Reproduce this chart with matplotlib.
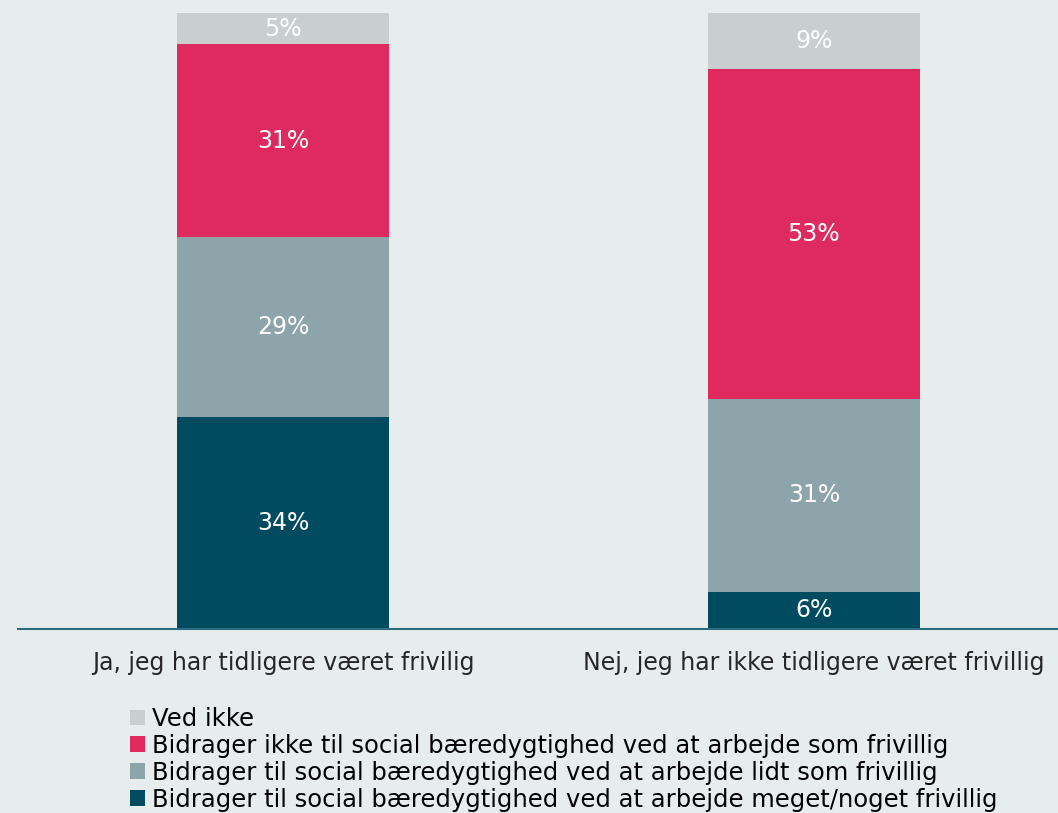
import matplotlib
matplotlib.use("Agg")
import matplotlib.pyplot as plt
from matplotlib.patches import Patch

categories = ["Ja, jeg har tidligere været frivilig",
              "Nej, jeg har ikke tidligere været frivillig"]
series_names = ["Bidrager til social bæredygtighed ved at arbejde meget/noget frivillig",
                "Bidrager til social bæredygtighed ved at arbejde lidt som frivillig",
                "Bidrager ikke til social bæredygtighed ved at arbejde som frivillig",
                "Ved ikke"]
meget = [34, 6]
lidt = [29, 31]
ikke = [31, 53]
ved_ikke = [5, 9]
colors = ["#004b5f", "#8da4ab", "#de2a5e", "#c9cfd1"]

bg = "#e7eded"
fig = plt.figure(figsize=(10.58, 8.13), dpi=100, facecolor=bg)
ax = fig.add_axes([18 / 1058, 1 - 629 / 813, 1 - 18 / 1058, 616 / 813])
ax.set_facecolor(bg)

x = range(len(categories))
bottom = [0, 0]
for vals, name, col in zip([meget, lidt, ikke, ved_ikke], series_names, colors):
    bars = ax.bar(x, vals, width=0.4, bottom=bottom, color=col, label=name)
    for b, v, bt in zip(bars, vals, bottom):
        ax.text(b.get_x() + b.get_width() / 2, bt + v / 2, f"{v}%",
                ha="center", va="center", color="white", fontsize=17)
    bottom = [a + b for a, b in zip(bottom, vals)]

ax.set_xlim(-0.5, 1.46)
ax.set_ylim(0, 99)
for s in ["top", "right", "left"]:
    ax.spines[s].set_visible(False)
ax.spines["bottom"].set_color("#2d6b7e")
ax.spines["bottom"].set_linewidth(1.5)
ax.set_yticks([])
ax.set_xticks(list(x))
ax.set_xticklabels(categories, fontsize=17, color="#262626")
ax.tick_params(axis="x", length=0, pad=16)

handles = [Patch(facecolor=c) for c in colors][::-1]
fig.legend(handles, series_names[::-1], loc="upper left",
           bbox_to_anchor=(130 / 1058, 1 - 707 / 813), frameon=False,
           fontsize=17.5, handlelength=0.62, handleheight=0.62,
           handletextpad=0.3, labelspacing=0.12, borderpad=0, borderaxespad=0)

fig.savefig("out.png", dpi=100, facecolor=bg)
